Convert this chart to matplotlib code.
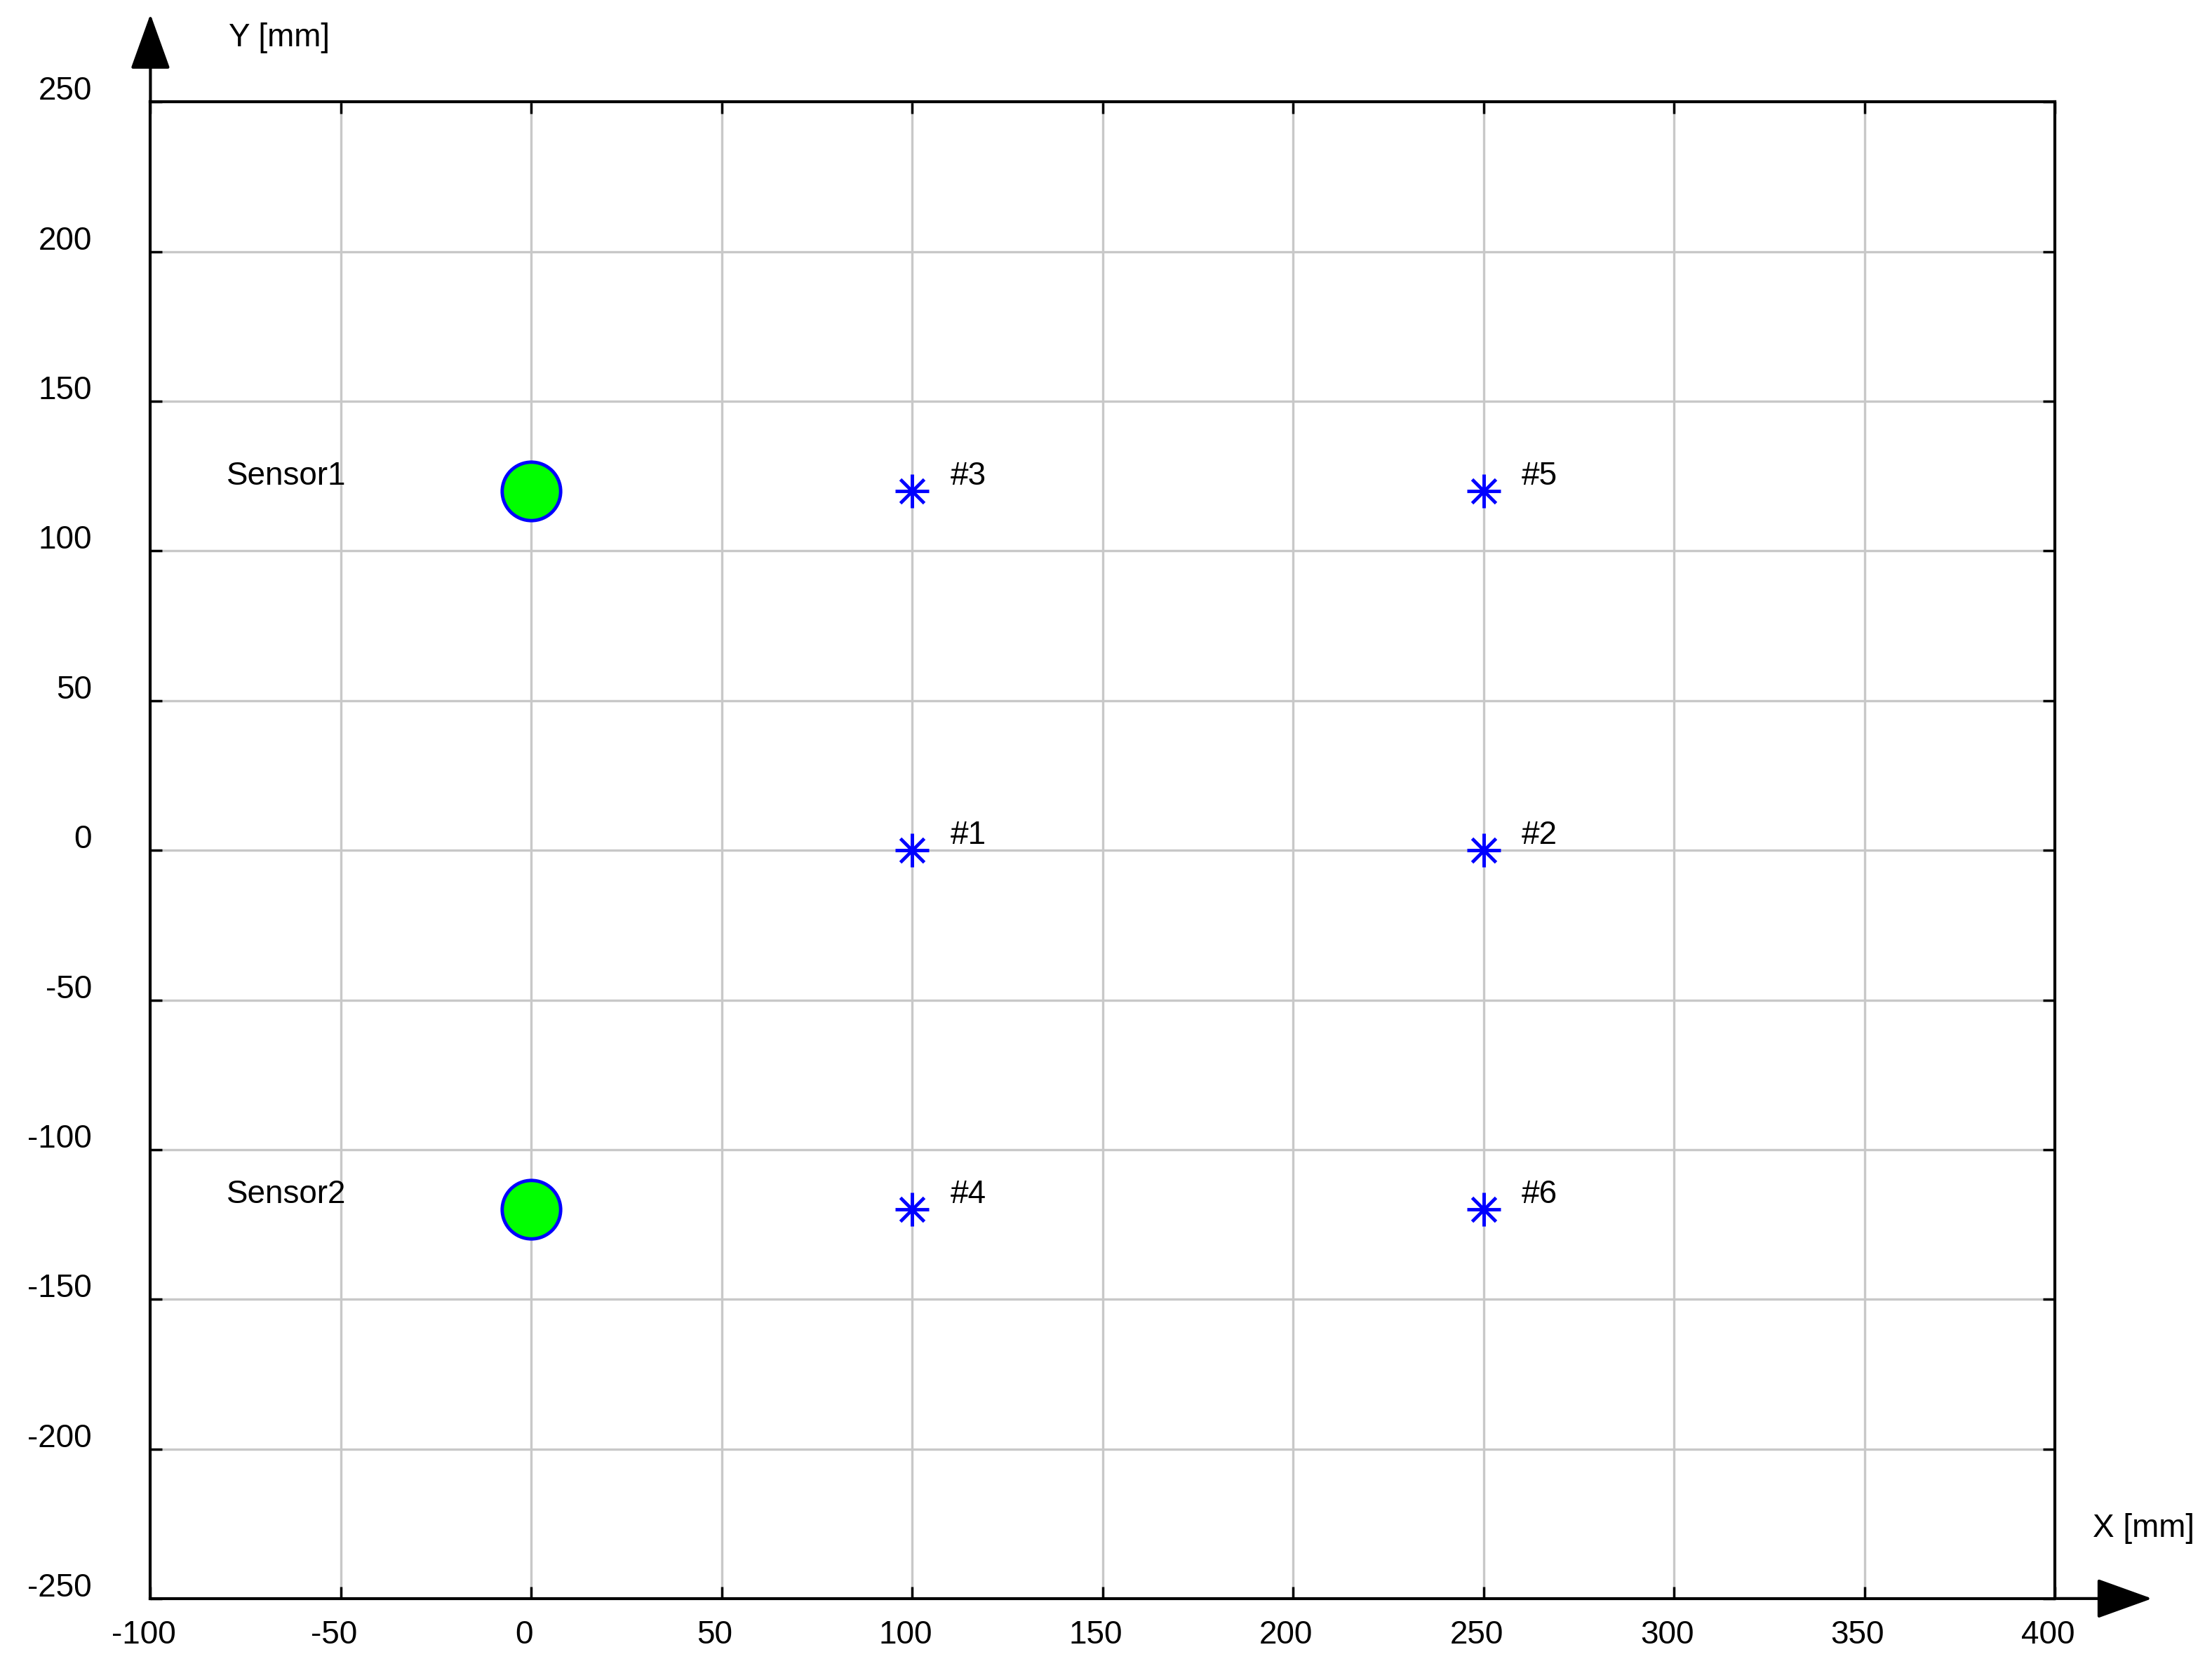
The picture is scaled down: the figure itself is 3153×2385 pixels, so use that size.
import matplotlib
matplotlib.use("Agg")
import matplotlib.pyplot as plt
from matplotlib.transforms import ScaledTranslation

sensor_x = [0, 0]
sensor_y = [120, -120]
sensor_names = ["Sensor1", "Sensor2"]
pt_x = [100, 250, 100, 100, 250, 250]
pt_y = [0, 0, 120, -120, 120, -120]
pt_names = ["#1", "#2", "#3", "#4", "#5", "#6"]
xticks = list(range(-100, 401, 50))
yticks = list(range(-250, 251, 50))

plt.rcParams['font.family'] = ['Liberation Sans', 'DejaVu Sans']
plt.rcParams['axes.unicode_minus'] = False
fig = plt.figure(figsize=(31.53, 23.85), dpi=100)
ax = fig.add_axes([0.068, 0.0445, 0.861, 0.8945])
ax.set_xlim(-100, 400)
ax.set_ylim(-250, 250)
ax.set_xticks(xticks)
ax.set_yticks(yticks)
ax.grid(True, color='#c8c8c8', linewidth=2.4)
ax.set_axisbelow(True)
ax.tick_params(direction='in', length=12, width=2.5, top=True, right=True,
               labelsize=33, pad=22)
ax.tick_params(axis='y', pad=60)
for s in ax.spines.values():
    s.set_linewidth(3)
for lbl in ax.get_xticklabels():
    lbl.set_transform(lbl.get_transform() + ScaledTranslation(-0.1, 0, fig.dpi_scale_trans))
for lbl in ax.get_yticklabels():
    lbl.set_transform(lbl.get_transform() + ScaledTranslation(0, 0.2, fig.dpi_scale_trans))

ax.plot(sensor_x, sensor_y, 'o', ms=60, mfc='#00ff00', mec='#0000ff', mew=3.5, zorder=3)
for x, y, n in zip(sensor_x, sensor_y, sensor_names):
    ax.text(-80, y + 5, n, fontsize=33, va='center', ha='left')
ax.plot(pt_x, pt_y, '+', ms=34, mec='#0000ff', mew=3.5, zorder=3)
ax.plot(pt_x, pt_y, 'x', ms=24, mec='#0000ff', mew=3.5, zorder=3)
for x, y, n in zip(pt_x, pt_y, pt_names):
    ax.text(10 + x, y + 5, n, fontsize=33, va='center', ha='left')

ap = dict(arrowstyle='-|>,head_length=5,head_width=1.8', color='black', lw=3)
ax.annotate('', xy=(0, 1.06), xytext=(0, 1.0), xycoords='axes fraction',
            arrowprops=ap, annotation_clip=False)
ax.annotate('', xy=(1.052, 0), xytext=(1.0, 0), xycoords='axes fraction',
            arrowprops=ap, annotation_clip=False)
ax.text(0.041, 1.043, 'Y [mm]', transform=ax.transAxes, fontsize=33, ha='left', va='center')
ax.text(1.02, 0.047, 'X [mm]', transform=ax.transAxes, fontsize=33, ha='left', va='center')

fig.savefig('out.png', dpi=100)
